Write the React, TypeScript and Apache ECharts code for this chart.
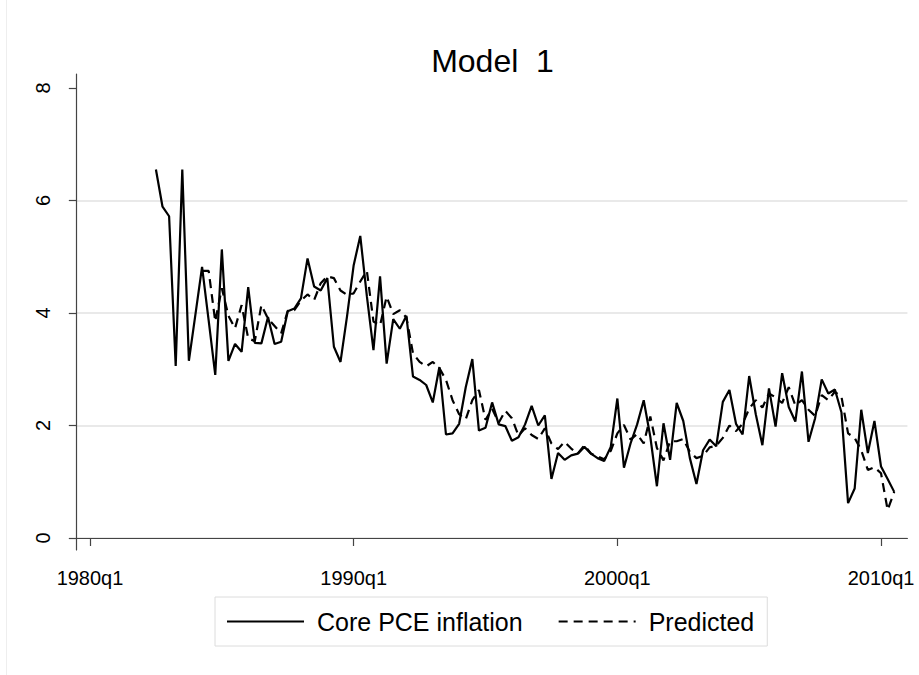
import React, { useEffect, useRef } from "react";
import * as echarts from "echarts";

// ---- data ----
const tickLabels = ["1980q1", "1990q1", "2000q1", "2010q1"];
const yTickValues = [0, 2, 4, 6, 8];
const firstYear = 1979;
const firstQ = 3;
const lastYear = 2011;
const lastQ = 1;
const coreStart = "1982q3";
const predStart = "1984q2";
const seriesNames = ["Core PCE inflation", "Predicted"];

const coreValues = [
  6.55, 5.89, 5.72, 3.06, 6.55, 3.15, 3.98, 4.82, 3.87, 2.9,
  5.13, 3.15, 3.45, 3.31, 4.46, 3.47, 3.46, 3.93, 3.45, 3.49,
  4.03, 4.08, 4.26, 4.97, 4.47, 4.4, 4.62, 3.4, 3.13, 3.95,
  4.85, 5.37, 4.3, 3.34, 4.65, 3.1, 3.89, 3.72, 3.95, 2.87,
  2.81, 2.72, 2.41, 3.04, 1.84, 1.86, 2.03, 2.68, 3.18, 1.91,
  1.96, 2.41, 2.02, 1.99, 1.73, 1.79, 2.02, 2.35, 2.0, 2.18,
  1.05, 1.51, 1.39, 1.47, 1.5, 1.62, 1.5, 1.42, 1.37, 1.62,
  2.48, 1.25, 1.68, 2.02, 2.45, 1.8, 0.92, 2.04, 1.39, 2.4,
  2.08, 1.42, 0.96, 1.56, 1.75, 1.63, 2.42, 2.63, 2.03, 1.84,
  2.88, 2.2, 1.65, 2.66, 1.98, 2.93, 2.33, 2.07, 2.96, 1.71,
  2.13, 2.82, 2.57, 2.64, 2.23, 0.62, 0.88, 2.28, 1.51, 2.08,
  1.27, 1.05, 0.82,
];

const predictedValues = [
  4.75, 4.75, 3.85,
  4.44, 3.95, 3.73, 4.14, 3.55, 3.5, 4.14, 3.9, 3.77, 3.64,
  4.04, 4.05, 4.22, 4.33, 4.23, 4.53, 4.65, 4.62, 4.4, 4.32,
  4.35, 4.56, 4.75, 3.85, 3.78, 4.29, 3.98, 4.05, 3.92, 3.28,
  3.13, 3.05, 3.13, 3.02, 2.81, 2.45, 2.2, 2.11, 2.45, 2.63,
  2.1, 2.3, 2.05, 2.26, 2.13, 1.82, 1.95, 1.83, 1.76, 1.95,
  1.68, 1.58, 1.71, 1.59, 1.5, 1.65, 1.5, 1.45, 1.4, 1.55,
  1.86, 2.01, 1.75, 1.85, 1.68, 2.16, 1.6, 1.38, 1.72, 1.72,
  1.76, 1.53, 1.42, 1.46, 1.61, 1.64, 1.78, 2.0, 1.9, 2.03,
  2.3, 2.45, 2.32, 2.57, 2.5, 2.4, 2.68, 2.36, 2.45, 2.28,
  2.17, 2.54, 2.45, 2.6, 2.51, 1.86, 1.78, 1.56, 1.21, 1.26,
  1.15, 0.5, 0.82,
];

function buildQuarters(): string[] {
  const out: string[] = [];
  let y = firstYear;
  let q = firstQ;
  while (y < lastYear || (y === lastYear && q <= lastQ)) {
    out.push(`${y}q${q}`);
    q += 1;
    if (q > 4) {
      q = 1;
      y += 1;
    }
  }
  return out;
}

const quarters = buildQuarters();

function align(values: number[], start: string): (number | null)[] {
  const s = quarters.indexOf(start);
  return quarters.map((_, i) => {
    const k = i - s;
    return k >= 0 && k < values.length ? values[k] : null;
  });
}

const FONT = "'Liberation Sans', Arial, Helvetica, sans-serif";

export default function App() {
  const ref = useRef<HTMLDivElement>(null);

  useEffect(() => {
    if (!ref.current) return;
    const chart = echarts.init(ref.current, undefined, { renderer: "svg" });
    const grey = "#e2e2e2";
    chart.setOption({
      animation: false,
      backgroundColor: "#ffffff",
      textStyle: { fontFamily: FONT },
      title: {
        text: "Model  1",
        left: 492.5,
        top: 45,
        textAlign: "center",
        padding: 0,
        textStyle: { fontSize: 32, fontWeight: "normal", color: "#000", fontFamily: FONT },
      },
      legend: {
        data: seriesNames,
        left: 215,
        top: 597,
        orient: "horizontal",
        itemWidth: 77,
        itemHeight: 12,
        itemGap: 35,
        padding: [12, 13, 12, 11],
        borderColor: "#dcdcdc",
        borderWidth: 1,
        selectedMode: false,
        itemStyle: { color: "rgba(0,0,0,0)", borderWidth: 0, opacity: 0 },
        textStyle: { fontSize: 25, color: "#000", padding: [0, 0, 0, 8], fontFamily: FONT },
      },
      grid: [
        { left: 76.82, right: 11.6, top: 88, bottom: 137, containLabel: false },
        { left: 76, right: 11.6, top: 74, bottom: 125, containLabel: false },
      ],
      xAxis: [
        {
          type: "category",
          gridIndex: 0,
          data: quarters,
          boundaryGap: false,
          offset: 12,
          axisLine: { show: true, lineStyle: { color: "#444", width: 1.2 } },
          axisTick: {
            show: true,
            length: 8,
            interval: (_i: number, v: string) => tickLabels.includes(v),
            lineStyle: { color: "#444", width: 1.2 },
          },
          axisLabel: {
            interval: (_i: number, v: string) => tickLabels.includes(v),
            fontSize: 20,
            margin: 18,
            color: "#000",
            fontFamily: FONT,
          },
          splitLine: { show: false },
        },
        { type: "value", gridIndex: 1, show: false, min: 0, max: 1 },
      ],
      yAxis: [
        {
          type: "value",
          gridIndex: 0,
          min: yTickValues[0],
          max: yTickValues[yTickValues.length - 1],
          interval: 2,
          axisLine: { show: false },
          axisTick: { show: true, length: 8, lineStyle: { color: "#444", width: 1.2 } },
          axisLabel: { rotate: 90, margin: 24, fontSize: 20, color: "#000", fontFamily: FONT },
          splitLine: {
            show: true,
            lineStyle: { color: [grey, grey, grey, grey, "rgba(0,0,0,0)"], width: 1.6 },
          },
        },
        {
          type: "value",
          gridIndex: 1,
          min: 0,
          max: 1,
          axisLine: { show: true, onZero: false, lineStyle: { color: "#444", width: 1.2 } },
          axisTick: { show: false },
          axisLabel: { show: false },
          splitLine: { show: false },
        },
      ],
      graphic: [
        {
          type: "line",
          shape: { x1: 6.5, y1: 0, x2: 6.5, y2: 675 },
          style: { stroke: "#eeeeee", lineWidth: 1 },
          silent: true,
        },
      ],
      series: [
        {
          name: seriesNames[0],
          type: "line",
          xAxisIndex: 0,
          yAxisIndex: 0,
          data: align(coreValues, coreStart),
          symbol: "none",
          connectNulls: false,
          lineStyle: { color: "#000", width: 2.2 },
          itemStyle: { color: "#000" },
          z: 3,
        },
        {
          name: seriesNames[1],
          type: "line",
          xAxisIndex: 0,
          yAxisIndex: 0,
          data: align(predictedValues, predStart),
          symbol: "none",
          connectNulls: false,
          lineStyle: { color: "#000", width: 2.2, type: [9, 6] },
          itemStyle: { color: "#000" },
          z: 3,
        },
      ],
    });
    return () => chart.dispose();
  }, []);

  return (
    <div
      ref={ref}
      style={{ position: "fixed", left: 0, top: 0, width: 919, height: 675, background: "#fff" }}
    />
  );
}
